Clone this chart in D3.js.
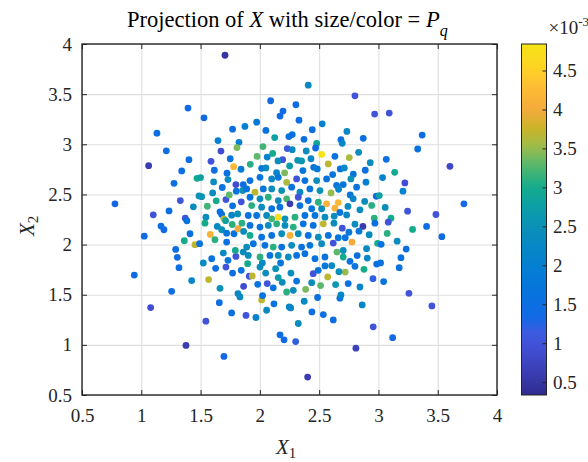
<!DOCTYPE html>
<html><head><meta charset="utf-8">
<script src="https://cdn.jsdelivr.net/npm/d3@7"></script>
<style>
body{margin:0;background:#fff}
svg{display:block}
svg text{font-family:"Liberation Serif","Times New Roman",serif !important}
</style>
</head><body>
<svg id="chart" width="588" height="462" font-family="Liberation Serif"></svg>
<script>
// ---------------- data ----------------
const X1 = [
1.706,2.091,2.304,1.394,2.195,2.170,1.529,2.330,1.973,1.874,
1.770,2.051,1.132,2.273,2.245,2.125,1.647,1.824,2.026,1.807,
2.231,1.211,1.672,2.108,1.976,2.062,1.402,1.750,1.588,2.192,
1.062,1.779,1.919,1.841,2.153,2.251,1.341,1.616,1.723,2.015,
2.051,2.141,2.209,1.470,1.500,1.610,1.731,1.798,1.860,1.276,
1.683,0.778,1.101,1.234,1.329,1.439,1.487,1.509,1.557,1.602,
1.632,1.714,1.742,1.664,1.770,1.801,1.843,1.855,1.371,1.545,
1.762,1.813,
2.408,2.802,2.968,3.091,2.526,2.442,2.734,2.372,2.684,2.695,
2.872,3.369,3.331,2.273,2.479,2.470,2.391,2.521,2.633,2.754,
2.833,2.931,3.066,3.603,3.137,2.319,2.352,2.431,2.577,2.454,
2.484,2.363,2.678,2.712,2.889,2.614,2.788,2.768,3.035,3.223,
3.207,2.895,2.816,2.647,2.664,2.703,2.600,2.762,2.787,2.982,
3.007,2.884,2.943,3.057,3.246,3.485,3.721,2.661,2.633,2.743,
2.675,2.732,2.844,2.965,3.106,
1.166,1.191,1.025,1.385,1.411,1.537,1.678,1.697,1.711,1.363,
1.453,1.492,1.582,1.621,1.641,1.678,1.720,1.767,1.782,1.815,
1.849,1.863,1.290,1.304,1.318,0.941,1.256,1.079,1.425,1.523,
1.568,1.594,1.627,1.664,1.658,1.762,1.545,1.377,1.697,1.883,
1.967,1.815,1.832,1.863,1.714,1.731,1.770,1.843,1.798,1.692,
1.720,1.793,1.860,1.897,1.911,1.936,1.982,2.015,2.023,2.057,
2.062,2.049,2.113,2.119,2.170,2.204,2.302,2.248,2.260,2.226,
2.189,2.155,2.001,2.021,2.133,2.175,2.262,2.310,2.324,
3.406,3.535,3.288,3.158,3.234,3.190,3.175,3.257,3.451,3.120,
2.956,2.810,2.403,2.863,2.619,2.535,2.439,2.487,2.374,2.675,
2.684,2.844,2.745,2.639,2.512,2.386,2.282,2.437,2.572,2.720,
2.667,2.450,2.492,2.606,2.549,2.954,3.044,2.878,2.802,2.985,
3.018,2.906,2.760,2.703,2.821,2.900,2.993,3.023,2.777,2.703,
2.650,2.619,2.661,2.720,2.751,2.695,2.869,2.836,2.922,2.970,
3.083,3.074,2.802,2.625,2.627,
1.917,2.001,2.100,2.155,2.226,2.310,2.380,2.479,2.563,
1.889,1.959,2.029,2.100,2.184,2.268,2.338,2.422,2.507,
1.917,2.001,2.071,2.155,2.226,2.324,2.408,2.493,2.563,
1.931,2.015,2.100,2.169,2.254,2.338,2.437,2.521,
1.902,1.973,2.057,2.100,2.155,2.212,2.296,2.380,2.465,2.549,
1.917,2.001,2.071,2.142,2.212,2.282,2.366,2.450,2.535,
1.917,2.015,2.100,2.184,2.254,2.324,2.408,2.493,2.577,
1.889,1.945,2.043,2.113,2.184,2.268,2.352,2.422,2.521,
1.902,2.001,2.085,2.155,2.240,2.310,2.380,2.465,2.549
];
const X2 = [
3.888,3.434,3.394,3.361,3.331,3.281,3.264,3.240,3.220,3.178,
3.151,3.138,3.111,3.097,3.077,3.067,3.037,3.020,2.977,2.967,
2.957,2.935,2.932,2.909,2.879,2.872,2.847,2.856,2.830,2.847,
2.787,2.777,2.800,2.751,2.834,2.784,2.734,2.741,2.711,2.760,
2.764,2.717,2.715,2.661,2.668,2.625,2.648,2.598,2.598,2.611,
2.569,2.406,2.297,2.336,2.439,2.376,2.485,2.478,2.382,2.515,
2.436,2.449,2.495,2.327,2.386,2.532,2.426,2.539,2.263,2.273,
2.293,2.306,
3.589,3.483,3.301,3.311,3.204,3.145,3.128,3.049,3.046,3.010,
3.059,3.092,2.953,2.946,3.009,2.963,2.933,2.900,2.880,2.867,
2.920,2.817,2.850,2.780,2.720,2.840,2.834,2.856,2.804,2.770,
2.754,2.738,2.754,2.764,2.741,2.698,2.701,2.655,2.668,2.615,
2.532,2.622,2.572,2.591,2.551,2.598,2.515,2.495,2.456,2.482,
2.489,2.430,2.390,2.370,2.333,2.300,2.406,2.419,2.363,2.380,
2.320,2.296,2.346,2.263,2.263,
2.184,2.148,2.084,2.237,2.108,2.213,2.300,2.257,2.238,2.038,
1.999,2.009,2.101,2.048,2.181,2.148,2.114,2.200,2.108,2.158,
2.213,2.131,1.952,1.873,1.770,1.696,1.534,1.372,1.641,1.816,
1.651,1.859,1.763,1.564,1.421,1.318,1.236,0.994,0.885,1.293,
1.273,1.511,1.478,1.584,1.776,1.843,1.716,1.743,1.882,1.915,
2.025,1.942,1.925,1.810,1.684,1.687,1.604,1.448,1.491,1.345,
1.611,1.716,1.569,1.409,1.100,1.050,1.033,1.378,1.368,1.527,
1.624,1.671,1.776,1.816,1.760,1.816,1.716,1.636,1.213,
2.181,2.079,2.151,2.034,1.955,1.869,1.770,1.514,1.388,1.072,
1.180,0.967,0.679,1.398,1.249,1.302,1.328,1.472,1.435,1.465,
1.498,1.577,1.611,1.601,1.591,1.554,1.544,1.620,1.677,1.726,
1.730,1.710,1.743,1.790,1.787,1.660,1.631,1.753,1.783,1.806,
1.817,1.865,1.833,1.876,1.890,1.959,2.012,2.002,2.025,1.942,
1.925,2.015,2.068,2.068,2.123,2.163,2.181,2.134,2.098,2.213,
2.223,2.111,2.203,2.213,2.283,
2.638,2.671,2.655,2.671,2.621,2.655,2.638,2.638,2.655,
2.555,2.522,2.555,2.555,2.538,2.572,2.522,2.555,2.538,
2.472,2.456,2.472,2.439,2.456,2.472,2.439,2.422,2.406,
2.389,2.373,2.357,2.373,2.406,2.389,2.357,2.357,
2.290,2.290,2.290,2.257,2.273,2.257,2.273,2.290,2.290,2.273,
2.191,2.174,2.191,2.207,2.191,2.174,2.207,2.191,2.207,
2.091,2.074,2.091,2.108,2.091,2.108,2.091,2.074,2.091,
1.975,2.008,1.992,1.975,1.975,1.992,1.975,1.992,2.008,
1.892,1.876,1.892,1.892,1.876,1.892,1.909,1.859,1.876
];
// P_q values in units of 1e-3
const PQ = [
0.5,1.4,1.4,1.4,1.4,1.4,1.4,1.5,1.8,2.0,
1.5,1.6,1.5,1.6,1.5,2.8,2.0,2.0,3.2,3.4,
1.1,1.5,0.9,3.0,3.3,2.1,1.5,1.6,1.0,1.0,
0.6,4.2,3.1,1.9,2.4,2.7,1.5,1.5,1.6,1.8,
2.3,2.2,3.4,3.0,2.8,2.4,2.4,0.9,1.4,1.5,
1.6,1.3,1.0,1.5,1.0,2.4,2.5,2.5,3.2,2.4,
3.0,1.0,3.3,1.5,1.6,1.6,1.0,2.5,1.0,2.4,
2.2,2.5,
2.3,1.0,1.0,1.0,2.1,1.5,2.2,1.5,1.5,2.2,
1.5,1.5,1.6,2.3,2.9,1.4,2.4,4.8,1.6,3.6,
2.4,2.4,1.5,0.8,3.0,2.5,2.6,2.2,3.7,1.7,
1.8,1.7,1.6,2.3,1.5,1.7,1.7,2.5,2.1,0.9,
2.1,2.0,1.6,1.7,2.2,1.7,3.5,1.7,2.2,1.4,
2.8,2.4,3.1,2.4,1.0,1.0,1.3,4.2,4.1,2.4,
1.6,2.3,2.4,3.1,3.0,
1.5,1.4,1.4,1.6,1.5,3.0,1.5,3.7,2.8,3.0,
3.7,1.6,4.1,3.1,2.3,2.5,1.7,3.1,1.6,4.0,
3.1,2.4,1.5,1.4,1.5,1.4,1.5,0.9,2.2,2.3,
3.7,1.6,1.5,2.5,1.5,1.5,1.0,0.6,1.3,1.0,
2.1,2.2,2.3,0.9,1.0,1.7,1.5,1.6,1.0,2.3,
1.6,3.0,2.4,3.0,1.0,3.7,1.6,3.7,1.6,2.3,
1.0,2.4,1.6,1.6,1.5,1.4,1.2,2.1,2.2,3.1,
2.4,2.7,2.4,2.3,2.5,1.7,2.4,1.6,2.4,
1.5,1.4,3.0,2.4,1.5,1.6,1.6,1.0,1.0,1.3,
1.0,0.7,0.6,2.2,1.5,1.5,1.5,1.6,2.3,1.6,
2.2,2.2,1.5,2.6,3.3,3.4,2.4,2.4,3.7,3.5,
2.5,1.0,1.7,2.3,1.7,1.2,1.6,3.0,1.6,1.5,
1.6,2.3,1.6,3.0,1.5,2.3,3.0,1.6,4.0,2.4,
3.3,1.0,1.7,1.6,1.7,1.0,0.6,1.7,2.3,1.6,
1.0,3.1,2.4,2.4,2.4,
1.6,1.6,2.3,1.7,3.6,1.0,1.6,2.4,1.6,
1.6,3.7,1.7,2.4,2.5,1.6,2.3,1.7,2.5,
1.6,2.4,3.1,2.4,3.2,1.0,1.6,3.1,4.1,
3.1,2.4,1.6,1.6,0.6,1.6,1.7,2.4,
1.6,1.7,2.4,3.2,4.7,2.5,3.1,1.6,1.7,2.4,
1.6,1.6,2.4,3.1,2.4,3.1,1.6,1.6,3.7,
3.0,1.6,1.6,2.4,4.1,2.4,1.6,2.4,1.6,
2.4,1.6,1.6,3.1,1.6,2.4,1.6,1.7,2.4,
2.4,3.1,1.6,2.4,2.4,1.6,1.6,1.6,1.6
];

const xTicks = [0.5,1,1.5,2,2.5,3,3.5,4];
const xTickLabels = ["0.5","1","1.5","2","2.5","3","3.5","4"];
const yTicks = [0.5,1,1.5,2,2.5,3,3.5,4];
const yTickLabels = ["0.5","1","1.5","2","2.5","3","3.5","4"];
const cTicks = [0.5,1,1.5,2,2.5,3,3.5,4,4.5];
const cTickLabels = ["0.5","1","1.5","2","2.5","3","3.5","4","4.5"];
const cLimits = [0.335, 4.84];
// colormap stops (value -> colour) sampled from the reference colour bar
const cmapValues = [0.335,0.6,0.95,1.15,1.3,1.6,2.0,2.4,2.75,3.0,3.3,3.55,3.75,4.0,4.3,4.55,4.84];
const cmapColors = ["#2e2b8e","#3a3cb0","#4150d6","#3c5ce0","#1468e6","#0872de","#0480d2","#0a8cbc",
                    "#0c9ea8","#13ab8c","#5cb86a","#a4bc48","#c8b428","#f5aa3c","#fdbe34","#fdd423","#f6e315"];

// ---------------- layout ----------------
const FONT = '"Liberation Serif","Times New Roman",serif';
const TICK_FS = 19;
const plot = {l:82, r:497, t:44, b:395};
const cbar = {l:521.5, r:546.5};
const axisCol = "#262626";

const svg = d3.select("#chart");
const x = d3.scaleLinear().domain([0.5,4]).range([plot.l, plot.r]);
const y = d3.scaleLinear().domain([0.5,4]).range([plot.b, plot.t]);
const color = d3.scaleLinear().domain(cmapValues).range(cmapColors).interpolate(d3.interpolateRgb).clamp(true);

// grid
const grid = svg.append("g");
grid.append("g").attr("transform",`translate(0,${plot.b})`)
  .call(d3.axisBottom(x).tickValues(xTicks).tickSize(-(plot.b-plot.t)).tickFormat(""));
grid.append("g").attr("transform",`translate(${plot.l},0)`)
  .call(d3.axisLeft(y).tickValues(yTicks).tickSize(-(plot.r-plot.l)).tickFormat(""));
grid.selectAll(".domain").remove();
grid.selectAll("line").attr("stroke","#dfdfdf").attr("stroke-width",1.1);

// points
const n = Math.min(X1.length, X2.length, PQ.length);
const pts = d3.range(n).map(i => ({x:X1[i], y:X2[i], v:PQ[i]}));
svg.append("g").selectAll("circle").data(pts).join("circle")
  .attr("cx", d => x(d.x)).attr("cy", d => y(d.y)).attr("r", 3.4)
  .attr("fill", d => color(d.v));

// axes
function styleAxis(g){
  g.attr("font-family", FONT).attr("font-size", TICK_FS);
  g.select(".domain").remove();
  g.selectAll("line").attr("stroke",axisCol).attr("stroke-width",1);
  g.selectAll("text").attr("fill",axisCol).attr("font-family",FONT).attr("font-size",TICK_FS);
}
const ax = svg.append("g");
ax.append("g").attr("transform",`translate(0,${plot.b})`)
  .call(d3.axisBottom(x).tickValues(xTicks).tickFormat((d,i)=>xTickLabels[i]).tickSizeInner(-5).tickSizeOuter(0))
  .call(styleAxis)
  .call(g => g.selectAll("text").attr("y",26.5).attr("dy",null));
ax.append("g").attr("transform",`translate(0,${plot.t})`)
  .call(d3.axisTop(x).tickValues(xTicks).tickFormat("").tickSizeInner(-5).tickSizeOuter(0))
  .call(styleAxis);
ax.append("g").attr("transform",`translate(${plot.l},0)`)
  .call(d3.axisLeft(y).tickValues(yTicks).tickFormat((d,i)=>yTickLabels[i]).tickSizeInner(-5).tickSizeOuter(0))
  .call(styleAxis)
  .call(g => g.selectAll("text").attr("x",-10).attr("dy","0.32em"));
ax.append("g").attr("transform",`translate(${plot.r},0)`)
  .call(d3.axisRight(y).tickValues(yTicks).tickFormat("").tickSizeInner(-5).tickSizeOuter(0))
  .call(styleAxis);
svg.append("rect").attr("x",plot.l).attr("y",plot.t).attr("width",plot.r-plot.l).attr("height",plot.b-plot.t)
  .attr("fill","none").attr("stroke",axisCol).attr("stroke-width",1.4);

// colour bar
const cy = d3.scaleLinear().domain(cLimits).range([plot.b, plot.t]);
const defs = svg.append("defs");
const grad = defs.append("linearGradient").attr("id","cgrad")
  .attr("x1",0).attr("y1",1).attr("x2",0).attr("y2",0);
d3.range(0,1.0001,0.02).forEach(t => {
  const v = cLimits[0] + t*(cLimits[1]-cLimits[0]);
  grad.append("stop").attr("offset",t).attr("stop-color",color(v));
});
svg.append("rect").attr("x",cbar.l).attr("y",plot.t).attr("width",cbar.r-cbar.l).attr("height",plot.b-plot.t)
  .attr("fill","url(#cgrad)").attr("stroke",axisCol).attr("stroke-width",1);
svg.append("g").attr("transform",`translate(${cbar.r},0)`)
  .call(d3.axisRight(cy).tickValues(cTicks).tickFormat((d,i)=>cTickLabels[i]).tickSizeInner(-4).tickSizeOuter(0).tickPadding(6.5))
  .call(styleAxis);
const mult = svg.append("text").attr("x",548.5).attr("y",34).attr("fill",axisCol).attr("font-family",FONT).attr("font-size",TICK_FS);
mult.append("tspan").text("×10");
mult.append("tspan").attr("dy",-8).attr("font-size",13).text("-3");

// title
const title = svg.append("text").attr("x",127).attr("y",27).attr("fill","#000").attr("font-family",FONT).attr("font-size",22.5);
title.append("tspan").text("Projection of ");
title.append("tspan").attr("font-style","italic").text("X");
title.append("tspan").text(" with size/color = ");
title.append("tspan").attr("font-style","italic").text("P");
title.append("tspan").attr("dy",9).attr("font-style","italic").attr("font-size",16).text("q");

// axis labels
const xl = svg.append("text").attr("x",276).attr("y",454).attr("fill",axisCol).attr("font-family",FONT).attr("font-size",21);
xl.append("tspan").attr("font-style","italic").text("X");
xl.append("tspan").attr("dy",4).attr("font-size",15).text("1");
const yl = svg.append("text").attr("transform","translate(34,236) rotate(-90)").attr("fill",axisCol).attr("font-family",FONT).attr("font-size",21);
yl.append("tspan").attr("font-style","italic").text("X");
yl.append("tspan").attr("dy",4).attr("font-size",15).text("2");
</script>
</body></html>
